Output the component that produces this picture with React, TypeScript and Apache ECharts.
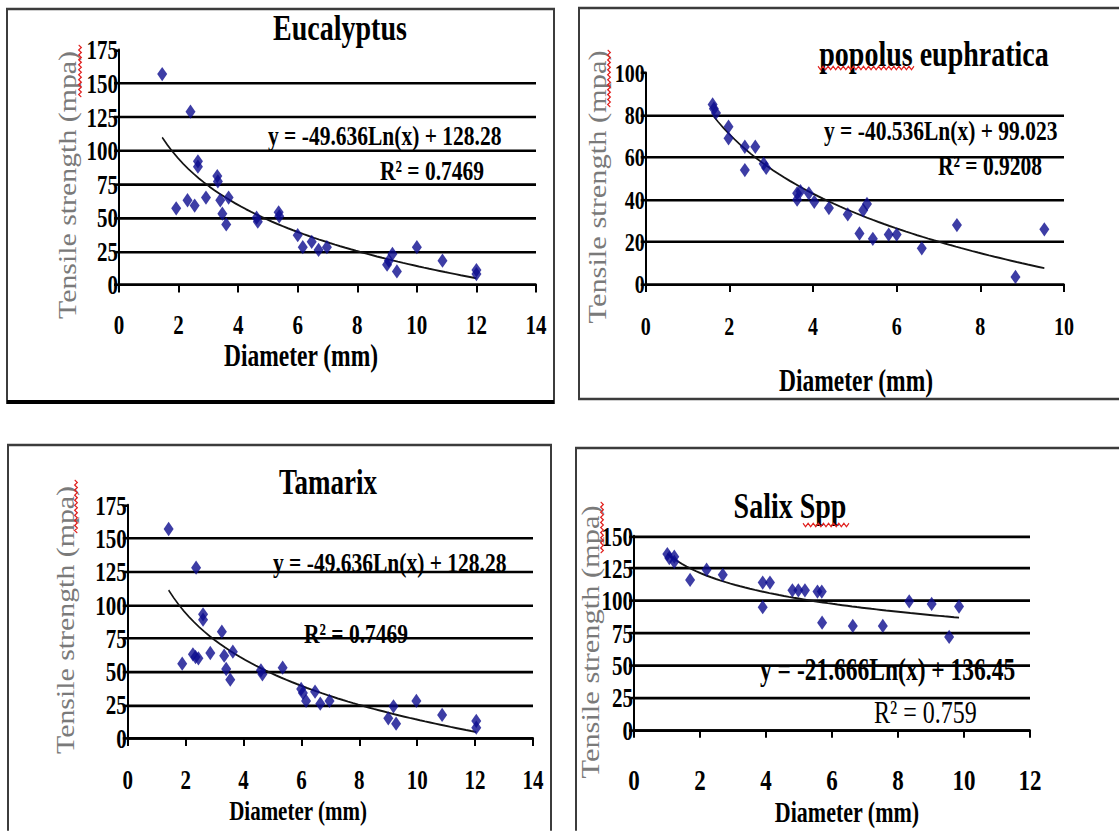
import React, { useEffect, useRef } from "react";
import * as echarts from "echarts";

// ---------- data ----------
const eucalyptusPoints: number[][] = [
  [1.45, 157], [2.4, 129], [2.65, 92], [2.65, 88], [3.3, 81], [3.32, 77], [1.92, 57], [2.3, 63],
  [2.54, 59], [2.92, 65], [3.4, 63], [3.68, 65], [3.47, 53], [3.6, 45], [4.62, 50], [4.66, 47],
  [5.36, 54], [5.38, 51], [6.0, 37], [6.17, 28], [6.47, 32], [6.7, 26], [6.98, 28], [9.0, 15],
  [9.06, 18], [9.18, 23], [9.33, 10], [10.0, 28], [10.86, 18], [12.0, 11], [12.0, 8],
];
const populusPoints: number[][] = [
  [1.6, 85], [1.63, 83], [1.68, 81], [1.98, 74.5], [1.98, 69], [2.37, 65], [2.37, 54], [2.62, 65],
  [2.82, 57], [2.88, 55], [3.62, 43], [3.62, 40], [3.7, 44], [3.9, 43], [4.03, 39], [4.38, 36],
  [4.83, 33], [5.2, 35], [5.29, 38], [5.11, 24], [5.43, 21.5], [5.81, 23.5], [6.0, 23.5], [6.6, 17],
  [7.44, 28], [8.84, 3.5], [9.53, 26],
];
const tamarixPoints: number[][] = [
  [1.41, 157], [2.36, 128], [2.6, 93], [2.6, 89], [3.25, 80], [1.88, 56], [2.25, 63], [2.34, 61],
  [2.44, 60], [2.85, 64], [3.33, 62], [3.63, 65], [3.4, 52], [3.54, 44], [4.6, 51], [4.65, 48],
  [5.35, 53], [5.99, 37], [6.05, 34], [6.16, 28], [6.47, 35], [6.65, 26], [6.97, 28], [9.0, 15],
  [9.18, 24], [9.27, 11], [9.97, 28], [10.86, 17.5], [12.04, 13], [12.04, 8],
];
const salixPoints: number[][] = [
  [1.01, 136], [1.07, 133], [1.22, 134], [1.22, 130], [1.7, 116], [2.2, 124], [2.69, 120], [3.9, 114],
  [4.12, 114], [3.9, 95], [4.8, 108], [4.98, 108], [5.18, 108], [5.56, 107], [5.69, 107], [5.7, 83],
  [6.63, 80.5], [7.54, 80.5], [8.34, 99.5], [9.02, 97.5], [9.55, 72], [9.85, 95.5],
];

// logarithmic trendline coefficients, as printed: y = a*Ln(x) + b
const eucalyptusTrend = [-49.636, 128.28];
const populusTrend = [-40.536, 99.023];
const tamarixTrend = [-49.636, 128.28];
const salixTrend = [-21.666, 136.45];

const titles = ["Eucalyptus", "popolus euphratica", "Tamarix", "Salix Spp"];
const equations = [
  "y = -49.636Ln(x) + 128.28",
  "y = -40.536Ln(x) + 99.023",
  "y = -49.636Ln(x) + 128.28",
  "y = -21.666Ln(x) + 136.45",
];
const rSquared = ["R² = 0.7469", "R² = 0.9208", "R² = 0.7469", "R² = 0.759"];
const xAxisTitle = "Diameter (mm)";
const yAxisTitle = "Tensile strength (mpa)";
const xMax = [14, 10, 14, 12];
const yMax = [175, 100, 175, 150];
const yStep = [25, 20, 25, 25];

// ---------- layout ----------
const S = 1.3; // vertical stretch of the reference picture
const W = 1119;
const H = 639;
const cy = (v: number) => v / S;
const FONT = '"Liberation Serif", "Times New Roman", serif';

function trendLine(points: number[][], coef: number[]) {
  const xs = points.map((p) => p[0]);
  const x0 = Math.min(...xs);
  const x1 = Math.max(...xs);
  const out: number[][] = [];
  const n = 60;
  for (let i = 0; i <= n; i++) {
    const x = x0 + ((x1 - x0) * i) / n;
    out.push([x, coef[0] * Math.log(x) + coef[1]]);
  }
  return out;
}

const grids = [
  { left: 119, top: cy(49.9), width: 417, height: cy(284.8) - cy(49.9) },
  { left: 645.7, top: cy(72.7), width: 418.3, height: cy(284.3) - cy(72.7) },
  { left: 127.8, top: cy(505), width: 405.2, height: cy(738.3) - cy(505) },
  { left: 634, top: cy(536), width: 396, height: cy(730) - cy(536) },
];
const xLabelFont = [21, 20, 21, 23];
const xLabelMargin = [20, 22, 21, 27];
const yLabelFont = [21, 20, 21, 21];

function text(
  x: number,
  yRef: number,
  str: string,
  fontSize: number,
  opt: { bold?: boolean; align?: string; rotate?: boolean; color?: string; sx?: number } = {}
) {
  const align = opt.align || "center";
  return {
    type: "text",
    x,
    y: cy(yRef),
    rotation: opt.rotate ? Math.PI / 2 : 0,
    scaleX: opt.sx || 1,
    silent: true,
    z: 10,
    style: {
      text: str,
      fontSize,
      fontFamily: FONT,
      fontWeight: opt.bold === false ? "normal" : "bold",
      fill: opt.color || "#000",
      align,
      verticalAlign: "middle",
      textAlign: align,
      textVerticalAlign: "middle",
    },
  };
}

function squiggle(x0: number, y0: number, x1: number, y1: number) {
  const pts: number[][] = [];
  const vertical = Math.abs(x1 - x0) < Math.abs(y1 - y0);
  const len = vertical ? y1 - y0 : x1 - x0;
  const steps = Math.round(len / 2.5);
  for (let i = 0; i <= steps; i++) {
    const t = i / steps;
    const off = i % 2 === 0 ? -1.3 : 1.3;
    if (vertical) pts.push([x0 + off, cy(y0 + (y1 - y0) * t)]);
    else pts.push([x0 + (x1 - x0) * t, cy(y0) + off]);
  }
  return {
    type: "polyline",
    silent: true,
    z: 11,
    shape: { points: pts },
    style: { stroke: "#e0201e", lineWidth: 1.1, fill: "none" },
  };
}

function frame(x: number, y0: number, w: number, y1: number) {
  return {
    type: "rect",
    silent: true,
    z: 1,
    shape: { x, y: cy(y0), width: w, height: cy(y1) - cy(y0) },
    style: { fill: "none", stroke: "#3c3c3c", lineWidth: 2 },
  };
}

function buildOption() {
  const allPoints = [eucalyptusPoints, populusPoints, tamarixPoints, salixPoints];
  const allTrends = [eucalyptusTrend, populusTrend, tamarixTrend, salixTrend];

  const xAxis = grids.map((_, i) => ({
    type: "value",
    gridIndex: i,
    min: 0,
    max: xMax[i],
    interval: 2,
    axisLine: { show: true, onZero: false, lineStyle: { color: "#000", width: 2 } },
    axisTick: { show: true, inside: false, length: 6, lineStyle: { color: "#000", width: 2 } },
    axisLabel: {
      fontFamily: FONT,
      fontWeight: "bold",
      fontSize: xLabelFont[i],
      color: "#000",
      margin: xLabelMargin[i],
    },
    splitLine: { show: false },
  }));

  const yAxis = grids.map((_, i) => ({
    type: "value",
    gridIndex: i,
    min: 0,
    max: yMax[i],
    interval: yStep[i],
    axisLine: { show: true, onZero: false, lineStyle: { color: "#000", width: 2 } },
    axisTick: { show: true, inside: false, length: 5, lineStyle: { color: "#000", width: 2 } },
    axisLabel: {
      fontFamily: FONT,
      fontWeight: "bold",
      fontSize: yLabelFont[i],
      color: "#000",
      margin: 1,
    },
    splitLine: {
      show: true,
      showMaxLine: i === 3,
      lineStyle: { color: "#000", width: 2 },
    },
  }));

  const series: any[] = [];
  allPoints.forEach((pts, i) => {
    series.push({
      type: "line",
      xAxisIndex: i,
      yAxisIndex: i,
      data: trendLine(pts, allTrends[i]),
      showSymbol: false,
      symbol: "none",
      smooth: false,
      lineStyle: { color: "#151515", width: 1.5 },
      z: 3,
      silent: true,
    });
    series.push({
      type: "scatter",
      xAxisIndex: i,
      yAxisIndex: i,
      data: pts,
      symbol: "diamond",
      symbolSize: [10, 11],
      itemStyle: { color: "#0c0c8e" },
      z: 4,
      silent: true,
    });
  });

  const graphic: any[] = [
    // panel frames
    frame(7, 9, 547, 402.7),
    {
      type: "line",
      silent: true,
      z: 2,
      shape: { x1: 7, y1: cy(402), x2: 554, y2: cy(402) },
      style: { stroke: "#000", lineWidth: 3 },
    },
    frame(579, 8, 600, 399),
    frame(8, 445, 543, 900),
    frame(576, 448, 600, 900),

    // panel 1
    text(340, 28, titles[0], 28),
    text(268, 135, equations[0], 21.5, { align: "left" }),
    text(380, 170, rSquared[0], 21.5, { align: "left" }),
    text(301, 356, xAxisTitle, 23.5),
    text(67, 185, yAxisTitle, 25.5, { rotate: true, bold: false, color: "#7a7a7a", sx: 0.9 }),

    // panel 2
    text(934, 54, titles[1], 28),
    text(824, 130, equations[1], 21.5, { align: "left" }),
    text(938, 165, rSquared[1], 21.5, { align: "left" }),
    text(856, 381, xAxisTitle, 23.5),
    text(597, 187, yAxisTitle, 26, { rotate: true, bold: false, color: "#7a7a7a", sx: 0.9 }),

    // panel 3
    text(328, 482, titles[2], 27),
    text(273, 562, equations[2], 21.5, { align: "left" }),
    text(304, 633, rSquared[2], 21.5, { align: "left" }),
    text(298, 810, xAxisTitle, 21),
    text(65, 620, yAxisTitle, 25.5, { rotate: true, bold: false, color: "#7a7a7a", sx: 0.9 }),

    // panel 4
    text(790, 506, titles[3], 28),
    text(760, 670, equations[3], 23.5, { align: "left" }),
    text(874, 712, rSquared[3], 24, { align: "left", bold: false }),
    text(847, 812, xAxisTitle, 22),
    text(590, 642, yAxisTitle, 26, { rotate: true, bold: false, color: "#7a7a7a", sx: 0.9 }),

    // spell-check squiggles
    squiggle(80, 45, 80, 97),
    squiggle(609, 50, 609, 107),
    squiggle(818, 68, 914, 68),
    squiggle(76, 480, 76, 533),
    squiggle(602, 502, 602, 553),
    squiggle(803, 525, 849, 525),
  ];

  return {
    animation: false,
    backgroundColor: "#fff",
    grid: grids.map((g) => ({ ...g, containLabel: false, outerBoundsMode: "none" })),
    xAxis,
    yAxis,
    series,
    graphic,
  };
}

export default function App() {
  const ref = useRef<HTMLDivElement>(null);
  useEffect(() => {
    document.body.style.margin = "0";
    document.body.style.overflow = "hidden";
    if (!ref.current) return;
    const chart = echarts.init(ref.current, null, { renderer: "svg", width: W, height: H });
    chart.setOption(buildOption() as any);
    return () => chart.dispose();
  }, []);
  return (
    <div
      ref={ref}
      style={{
        position: "absolute",
        left: 0,
        top: 0,
        width: W,
        height: H,
        transform: `scaleY(${S})`,
        transformOrigin: "0 0",
        background: "#fff",
      }}
    />
  );
}
